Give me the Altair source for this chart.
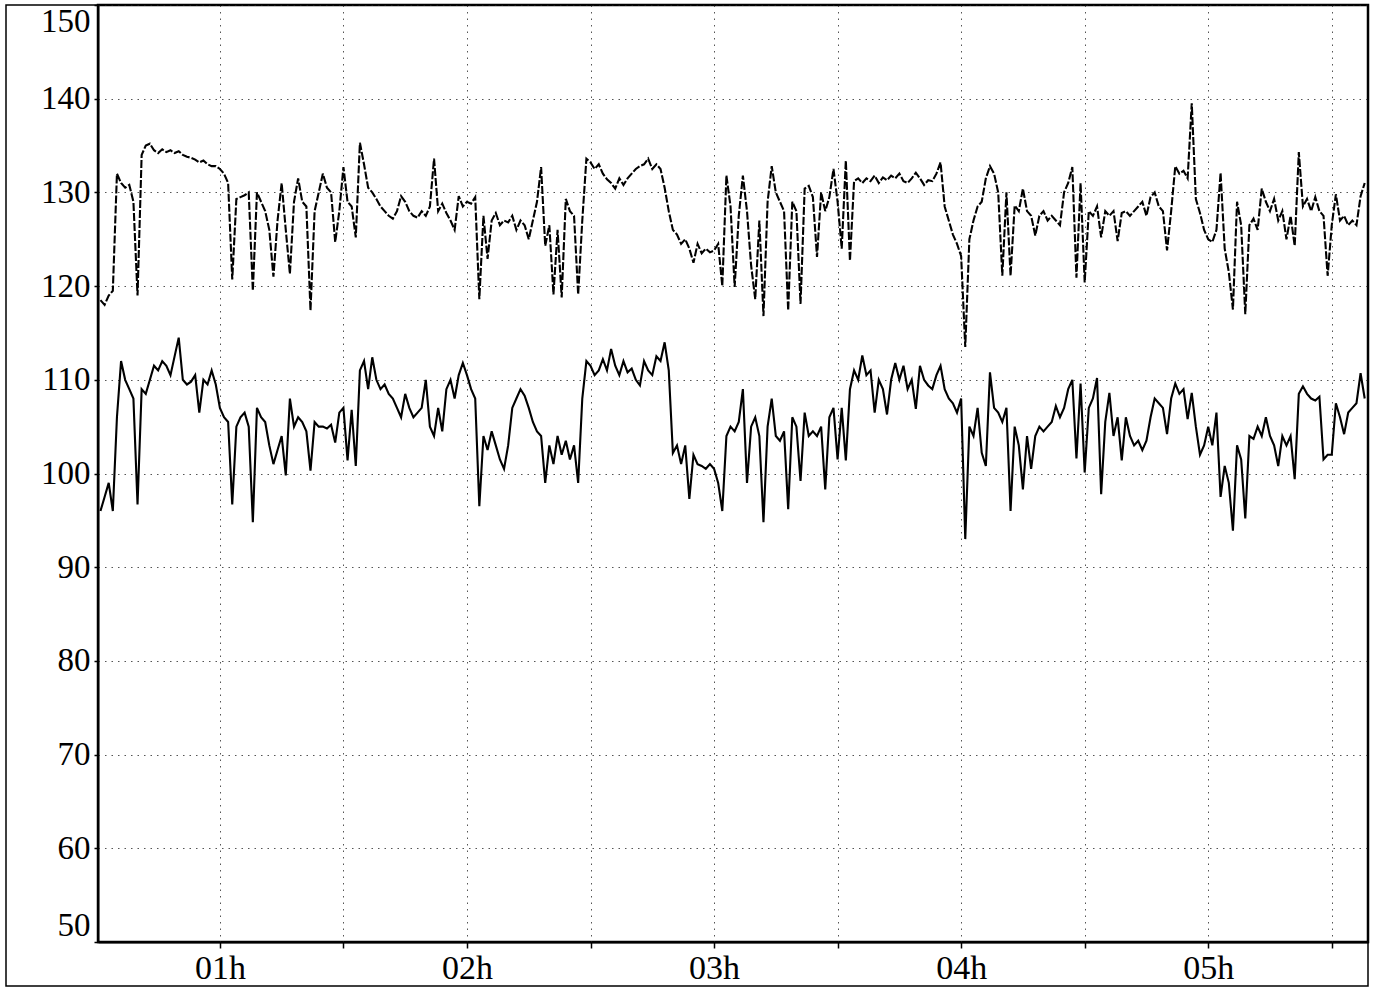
import altair as alt
import pandas as pd

START_MINUTE = 31  # first sample at 00:31, one value per minute

# Upper (dashed) series, minutes 31-108
SYS_A = [118.5, 118, 119, 119.5, 132, 131, 130.5, 130.8, 129, 119,
         134, 135, 135.2, 134.5, 134.2, 134.6, 134.3, 134.5, 134.2, 134.4,
         134, 133.8, 133.7, 133.5, 133.2, 133.4, 133, 132.8, 132.8, 132.5,
         132, 131, 120.7, 129.3, 129.5, 129.7, 130, 119.5, 130, 129,
         128, 126, 121, 127, 131, 126, 121.3, 129, 131.5, 129,
         128.5, 117.4, 128, 130, 132, 130.5, 130, 124.7, 128, 132.7,
         129, 128.5, 125.2, 135.3, 133, 130.5, 130, 129.3, 128.5, 128,
         127.5, 127.2, 128, 129.6, 129, 128, 127.5, 127.3]
# minutes 109-186
SYS_B = [128, 127.5, 128.5, 133.6, 128, 128.8, 127.8, 127, 126, 129.6,
         128.5, 129, 128.8, 129.5, 118.6, 127.5, 122.9, 127, 127.8, 126.5,
         127, 126.8, 127.5, 126, 127, 126.5, 125, 127, 129, 132.7,
         124.3, 126.5, 119.1, 126, 118.8, 129.3, 128, 127.5, 119.1, 127,
         133.6, 133.2, 132.5, 133, 132, 131.4, 131, 130.4, 131.5, 130.8,
         131.5, 132, 132.5, 132.8, 133, 133.6, 132.5, 133, 132.5, 130.5,
         128, 126, 125.5, 124.5, 125, 124, 122.5, 124.5, 123.5, 124,
         123.6, 123.8, 124.5, 120, 131.8, 128.5, 119.9, 127.5]
# minutes 187-264
SYS_C = [131.8, 128, 122.2, 118.6, 127, 116.8, 129, 132.8, 130, 129,
         128, 117.4, 129, 128, 118.1, 130.4, 130.7, 129.5, 123.1, 130,
         128, 129.5, 132.5, 129, 124, 133.4, 122.7, 131.2, 131.5, 131,
         131.5, 131.2, 131.8, 131, 131.6, 131.3, 131.8, 131.5, 132, 131.2,
         131, 131.5, 132.1, 131.5, 130.8, 131.3, 131.2, 132, 133.2, 128.5,
         127, 125.5, 124.5, 123.2, 113.5, 125, 127, 128.5, 129, 131.5,
         132.8, 132, 130, 121.1, 130, 121.1, 128.6, 128, 130.4, 128,
         127.5, 125.4, 127.5, 128, 127, 127.5, 127, 126.5]
# minutes 265-338
SYS_D = [130, 131, 132.7, 120.9, 131, 120.4, 128, 127.5, 128.5, 125.2,
         128, 127.5, 128, 124.8, 127.8, 128, 127.5, 128, 128.5, 129,
         127.5, 129.5, 130, 128.5, 128, 123.8, 128, 132.8, 132, 132.3,
         131.5, 139.5, 129.3, 127.8, 126, 125, 124.7, 126, 132.1, 124,
         121.5, 117.5, 129, 126.5, 117, 126.5, 127.2, 126, 130.4, 129,
         128, 129.3, 127, 128, 125, 127.5, 124.3, 134.3, 128.5, 129.3,
         128, 129.5, 128, 127.5, 121.1, 126.5, 129.8, 127, 127.5, 126.5,
         127, 126.5, 129.6, 131]

# Lower (solid) series, minutes 31-108
DIA_A = [96, 97.5, 99, 96, 106, 112, 110, 109, 108, 96.7,
         109, 108.5, 110, 111.5, 111, 112, 111.5, 110.5, 112.5, 114.5,
         110, 109.5, 109.8, 110.5, 106.5, 110, 109.5, 111, 109.5, 107,
         106, 105.5, 96.7, 105, 106, 106.5, 105, 94.8, 107, 106,
         105.5, 103, 101, 102.5, 104, 99.8, 108, 105, 106, 105.5,
         104.5, 100.3, 105.5, 105, 105, 104.8, 105.2, 103.3, 106.5, 107,
         101.4, 106.8, 100.8, 111, 112, 109, 112.4, 110, 109, 109.5,
         108.5, 108, 107, 106, 108.5, 107, 106, 106.5]
# minutes 109-186
DIA_B = [107, 110, 105, 104, 107, 104.5, 109, 110, 108, 110.5,
         111.8, 110.5, 109, 108, 96.5, 104, 102.5, 104.5, 103, 101.5,
         100.5, 103, 107, 108, 109, 108.3, 107, 105.5, 104.5, 104,
         99, 103, 101, 104, 102, 103.5, 101.5, 103, 99, 108,
         112, 111.5, 110.5, 111, 112.2, 111, 113.3, 111.5, 110.5, 112,
         110.8, 111.2, 110, 109.4, 112, 111, 110.5, 112.5, 112, 114,
         111, 102.2, 103, 101, 103, 97.3, 102, 101, 100.8, 100.5,
         101, 100.5, 99, 96, 104, 105, 104.5, 105.5]
# minutes 187-264
DIA_C = [109, 99, 105, 106, 104, 94.8, 105, 108, 104, 103.5,
         104.5, 96.2, 106, 105, 99.2, 106.5, 104, 104.5, 104, 105,
         98.3, 106, 107, 101.5, 107, 101.4, 109, 111, 110, 112.6,
         110.5, 111, 106.5, 110, 109, 106.3, 110, 111.8, 110, 111.5,
         109, 110, 106.9, 111.5, 110, 109.4, 109, 110.5, 111.5, 109,
         108, 107.5, 106.5, 108, 93, 105, 104, 107, 102.2, 100.8,
         110.8, 107, 106.5, 105.5, 107, 96, 105, 103, 98.3, 104,
         100.5, 104, 105, 104.5, 105, 105.5, 107.2, 106]
# minutes 265-338
DIA_D = [107, 109, 110, 101.6, 109.6, 100.1, 107, 108, 110.2, 97.8,
         105.5, 108.6, 104, 106, 101.4, 106, 104, 103, 103.5, 102.5,
         103.5, 106, 108, 107.5, 107, 104.2, 108, 109.6, 108.5, 109,
         105.8, 108.6, 105, 102, 103, 105, 103, 106.5, 97.5, 100.8,
         99, 93.9, 103, 101.5, 95.2, 104, 103.7, 105, 104, 106,
         104, 103, 100.8, 104, 103, 104, 99.4, 108.5, 109.3, 108.5,
         108, 107.8, 108.2, 101.5, 102, 102, 107.5, 106, 104.2, 106.5,
         107, 107.5, 110.7, 108]

X_TICKS = [60, 90, 120, 150, 180, 210, 240, 270, 300, 330]
Y_TICKS = [50, 60, 70, 80, 90, 100, 110, 120, 130, 140, 150]

sys_vals = SYS_A + SYS_B + SYS_C + SYS_D
dia_vals = DIA_A + DIA_B + DIA_C + DIA_D
minutes = list(range(START_MINUTE, START_MINUTE + len(sys_vals)))

df_sys = pd.DataFrame({"minute": minutes, "value": sys_vals})
df_dia = pd.DataFrame({"minute": minutes[:len(dia_vals)], "value": dia_vals})

W, H = 1270, 937
FONT = "Liberation Serif"

x_enc = alt.X(
    "minute:Q",
    scale=alt.Scale(domain=[30.4, 338.8], nice=False, zero=False),
    axis=alt.Axis(
        values=X_TICKS,
        labelExpr="datum.value % 60 == 0 ? '0' + (datum.value / 60) + 'h' : ''",
        title="",
        grid=True,
        tickSize=6,
        labelPadding=3,
        labelFontSize=34,
    ),
)
y_enc = alt.Y(
    "value:Q",
    scale=alt.Scale(domain=[50, 150], nice=False, zero=False),
    axis=alt.Axis(
        values=Y_TICKS,
        title="",
        grid=True,
        tickSize=4,
        labelPadding=4,
        labelFlush=True,
        labelFontSize=33,
    ),
)

upper = alt.Chart(df_sys).mark_line(
    color="black", strokeWidth=2.1, strokeDash=[8, 2], clip=True
).encode(x=x_enc, y=y_enc)

lower = alt.Chart(df_dia).mark_line(
    color="black", strokeWidth=2.1, clip=True
).encode(x="minute:Q", y="value:Q")

frame = alt.Chart(pd.DataFrame({"k": [0]})).mark_rect(
    filled=False, stroke="black", strokeWidth=1.5, clip=False
).encode(
    x=alt.value(-92), x2=alt.value(W), y=alt.value(0), y2=alt.value(981)
)

chart = alt.layer(upper, lower, frame).properties(
    width=W,
    height=H,
    autosize=alt.AutoSizeParams(type="none"),
    padding={"left": 98, "top": 5, "right": 9, "bottom": 46},
    background="white",
).configure_view(
    stroke="black", strokeWidth=2.5
).configure_axis(
    domainColor="black",
    domainWidth=1.8,
    tickColor="black",
    tickWidth=1.5,
    labelFont=FONT,
    labelColor="black",
    gridColor="#555555",
    gridDash=[1.5, 5],
    gridWidth=1,
    gridOpacity=1,
)

chart.save("out.html", embed_options={"renderer": "svg", "actions": False})
